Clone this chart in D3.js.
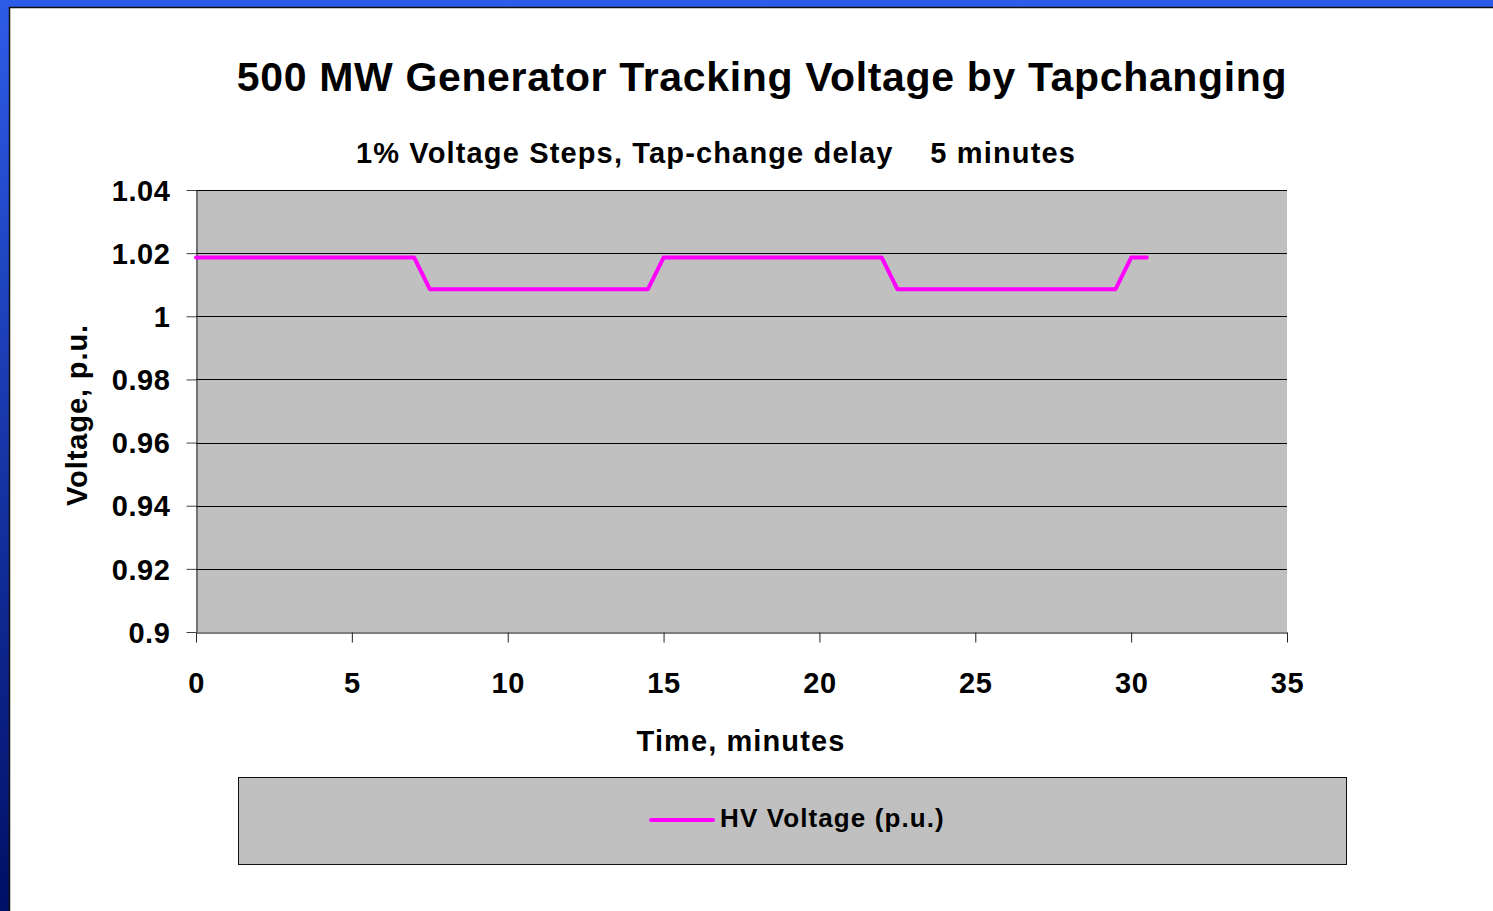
<!DOCTYPE html>
<html>
<head>
<meta charset="utf-8">
<script src="https://cdn.jsdelivr.net/npm/d3@7"></script>
<style>
  html, body { margin: 0; padding: 0; background: #fff; }
  svg { display: block; font-family: "Liberation Sans", Arial, sans-serif; }
</style>
</head>
<body>
<div id="chart"></div>
<script>
// chart data
var titleText = "500 MW Generator Tracking Voltage by Tapchanging";
var subtitleText = "1% Voltage Steps, Tap-change delay    5 minutes";
var seriesName = "HV Voltage (p.u.)";
var timeMinutes = [0, 7, 7.5, 14.5, 15, 22, 22.5, 29.5, 30, 30.5];
var hvVoltage = [1.0186, 1.0186, 1.0086, 1.0086, 1.0186, 1.0186, 1.0086, 1.0086, 1.0186, 1.0186];
var xTicks = [0, 5, 10, 15, 20, 25, 30, 35];
var yTicks = [0.9, 0.92, 0.94, 0.96, 0.98, 1, 1.02, 1.04];

var width = 1493, height = 911;

// plot area
var plotLeft = 196, plotRight = 1287, plotTop = 190, plotBottom = 632;

var svg = d3.select('#chart')
	.append('svg')
	.attr('width', width)
	.attr('height', height);

// slide background: blue frame with gradient down the left side
var defs = svg.append('defs');
var grad = defs.append('linearGradient')
	.attr('id', 'frameGrad')
	.attr('x1', 0).attr('y1', 0).attr('x2', 0).attr('y2', 1);
grad.append('stop').attr('offset', '0%').attr('stop-color', '#2d5ce8');
grad.append('stop').attr('offset', '100%').attr('stop-color', '#000f66');

svg.append('rect')
	.attr('width', width).attr('height', height)
	.attr('fill', 'url(#frameGrad)');
svg.append('rect')
	.attr('x', 9).attr('y', 7)
	.attr('width', width - 9).attr('height', height - 7)
	.attr('fill', '#ffffff');
svg.append('path')
	.attr('d', 'M9.5,' + height + ' V7.5 H' + width)
	.attr('fill', 'none')
	.attr('stroke', '#111')
	.attr('stroke-width', 1.5);

// scales
var x = d3.scaleLinear().domain([0, 35]).range([plotLeft, plotRight]);
var y = d3.scaleLinear().domain([0.9, 1.04]).range([plotBottom, plotTop]);

// plot background
svg.append('rect')
	.attr('x', plotLeft).attr('y', plotTop)
	.attr('width', plotRight - plotLeft).attr('height', plotBottom - plotTop)
	.attr('fill', '#c0c0c0');

// gridlines
svg.append('g')
	.selectAll('line')
	.data(yTicks.filter(function(d) { return d > 0.9; }))
	.enter()
	.append('line')
	.attr('x1', plotLeft).attr('x2', plotRight)
	.attr('y1', function(d) { return Math.round(y(d)) + 0.5; })
	.attr('y2', function(d) { return Math.round(y(d)) + 0.5; })
	.attr('stroke', '#000')
	.attr('stroke-width', 1);

// y axis
var yAxis = svg.append('g')
	.attr('transform', 'translate(' + (plotLeft + 0.5) + ',0)')
	.call(d3.axisLeft(y).tickValues(yTicks).tickSize(10).tickSizeOuter(0)
		.tickFormat(function(d) { return d3.format('')(+d.toFixed(2)); }));
yAxis.select('.domain').attr('stroke', '#222');
yAxis.selectAll('.tick line').attr('stroke', '#444');
yAxis.selectAll('text')
	.attr('font-size', 29)
	.attr('font-weight', 'bold')
	.attr('letter-spacing', 0.6)
	.attr('fill', '#000')
	.attr('x', -26)
	.attr('dy', '0.35em');

// x axis
var xAxis = svg.append('g')
	.attr('transform', 'translate(0,' + (plotBottom + 0.5) + ')')
	.call(d3.axisBottom(x).tickValues(xTicks).tickSize(10).tickSizeOuter(0));
xAxis.select('.domain').attr('stroke', '#555').attr('stroke-width', 1.5);
xAxis.selectAll('.tick line').attr('stroke', '#222');
xAxis.selectAll('text')
	.attr('font-size', 29)
	.attr('font-weight', 'bold')
	.attr('letter-spacing', 0.6)
	.attr('fill', '#000')
	.attr('y', 50)
	.attr('dy', '0.35em');

// series line
var line = d3.line()
	.x(function(d) { return x(d[0]); })
	.y(function(d) { return y(d[1]); });
svg.append('path')
	.datum(d3.zip(timeMinutes, hvVoltage))
	.attr('d', line)
	.attr('fill', 'none')
	.attr('stroke', '#ff00ff')
	.attr('stroke-width', 4)
	.attr('stroke-linejoin', 'round')
	.attr('stroke-linecap', 'round');

// titles
svg.append('text')
	.attr('x', 762).attr('y', 91)
	.attr('text-anchor', 'middle')
	.attr('font-size', 41)
	.attr('font-weight', 'bold')
	.attr('letter-spacing', 0.65)
	.text(titleText);

svg.append('text')
	.attr('x', 716).attr('y', 163)
	.attr('text-anchor', 'middle')
	.attr('font-size', 29)
	.attr('font-weight', 'bold')
	.attr('letter-spacing', 1.15)
	.style('white-space', 'pre')
	.text(subtitleText);

svg.append('text')
	.attr('x', 741).attr('y', 751)
	.attr('text-anchor', 'middle')
	.attr('font-size', 29)
	.attr('font-weight', 'bold')
	.attr('letter-spacing', 1.1)
	.text('Time, minutes');

svg.append('text')
	.attr('transform', 'translate(87,415) rotate(-90)')
	.attr('text-anchor', 'middle')
	.attr('font-size', 29)
	.attr('font-weight', 'bold')
	.attr('letter-spacing', 0.9)
	.text('Voltage, p.u.');

// legend
var legend = svg.append('g');
legend.append('rect')
	.attr('x', 238.5).attr('y', 777.5)
	.attr('width', 1108).attr('height', 87)
	.attr('fill', '#c0c0c0')
	.attr('stroke', '#111')
	.attr('stroke-width', 1);
legend.append('line')
	.attr('x1', 651).attr('x2', 713)
	.attr('y1', 820).attr('y2', 820)
	.attr('stroke', '#ff00ff')
	.attr('stroke-width', 4)
	.attr('stroke-linecap', 'round');
legend.append('text')
	.attr('x', 720).attr('y', 827)
	.attr('font-size', 26)
	.attr('font-weight', 'bold')
	.attr('letter-spacing', 1.1)
	.text(seriesName);
</script>
</body>
</html>
